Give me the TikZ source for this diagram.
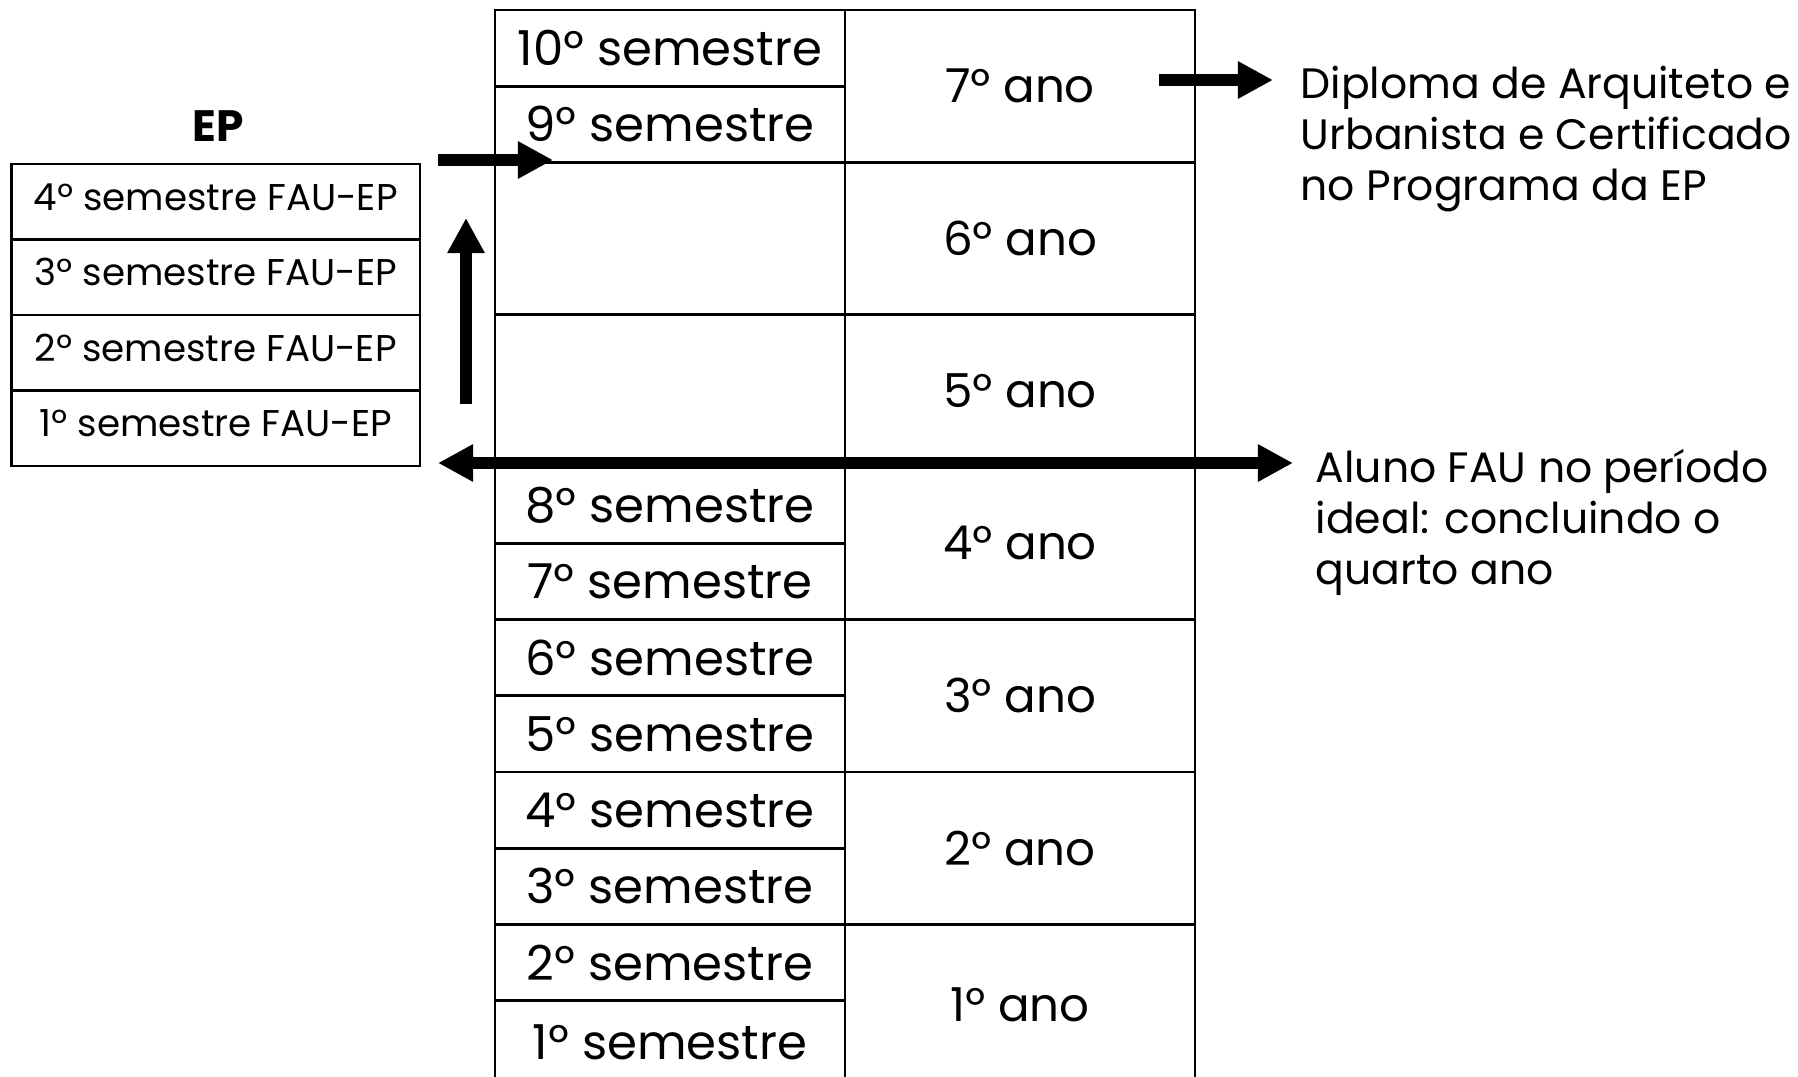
\documentclass[tikz,border=0pt]{standalone}
\usepackage{fontspec}
\setmainfont{Poppins}
\usetikzlibrary{positioning, arrows.meta}

\tikzset{
	celula/.style={draw, rectangle, line width=0.8pt, inner sep=0pt, outer sep=0pt, text centered, font=\fontsize{13.7}{16}\selectfont},
	semcel/.style={celula, minimum width=3.5cm, minimum height=0.762cm},
	anocel/.style={celula, minimum width=3.5cm, minimum height=1.524cm, font=\fontsize{13.3}{16}\selectfont},
	epcel/.style={celula, minimum width=4.085cm, minimum height=0.755cm, text depth=0.1cm, font=\fontsize{10.6}{13}\selectfont},
	nota/.style={anchor=west, align=left, inner sep=0pt, font=\fontsize{12.1}{14.5}\selectfont},
	seta/.style={line width=3.2pt, -{Triangle[length=10pt, width=10pt]}},
	setadupla/.style={line width=3.2pt, {Triangle[length=10pt, width=10pt]}-{Triangle[length=10pt, width=10pt]}}
}

\begin{document}
\begin{tikzpicture}
		\useasboundingbox (0,0) rectangle (17.98,-10.77);
		
		%Years column
		\node (ano7) at (10.20,-0.862) [anocel]{7º ano};
		\node (ano6) at (10.20,-2.386) [anocel]{6º ano};
		\node (ano5) at (10.20,-3.910) [anocel]{5º ano};
		\node (ano4) at (10.20,-5.434) [anocel]{4º ano};
		\node (ano3) at (10.20,-6.958) [anocel]{3º ano};
		\node (ano2) at (10.20,-8.482) [anocel]{2º ano};
		\node (ano1) at (10.20,-10.046) [anocel, minimum height=1.604cm]{1º ano};
		
		%Semesters column
		\node (sem10) at (6.70,-0.481) [semcel]{10º semestre};
		\node (sem9) at (6.70,-1.243) [semcel]{9º semestre};
		\node (vazio6) at (6.70,-2.386) [anocel]{};
		\node (vazio5) at (6.70,-3.910) [anocel]{};
		\node (sem8) at (6.70,-5.053) [semcel]{8º semestre};
		\node (sem7) at (6.70,-5.815) [semcel]{7º semestre};
		\node (sem6) at (6.70,-6.577) [semcel]{6º semestre};
		\node (sem5) at (6.70,-7.339) [semcel]{5º semestre};
		\node (sem4) at (6.70,-8.101) [semcel]{4º semestre};
		\node (sem3) at (6.70,-8.863) [semcel]{3º semestre};
		\node (sem2) at (6.70,-9.625) [semcel]{2º semestre};
		\node (sem1) at (6.70,-10.427) [semcel, minimum height=0.842cm]{1º semestre};
		
		%EP block
		\node (EP) at (2.18,-1.26) [font=\fontsize{12.5}{14}\selectfont\bfseries]{EP};
		\node (ep4) at (2.157,-2.0175) [epcel]{4º semestre FAU-EP};
		\node (ep3) at (2.157,-2.7725) [epcel]{3º semestre FAU-EP};
		\node (ep2) at (2.157,-3.5275) [epcel]{2º semestre FAU-EP};
		\node (ep1) at (2.157,-4.2825) [epcel]{1º semestre FAU-EP};
		
		%Notes on the right
		\node (Diploma) at (13.00,-1.39) [nota]{Diploma de Arquiteto e\\Urbanista e Certificado\\no Programa da EP};
		\node (Aluno) at (13.15,-5.22) [nota]{Aluno FAU no período\\ideal: concluindo o\\quarto ano};
		
		%Arrow ends
		\coordinate (entra1) at (4.38,-1.60);
		\coordinate (entra2) at (5.53,-1.60);
		\coordinate (sobe1) at (4.66,-4.04);
		\coordinate (sobe2) at (4.66,-2.18);
		\coordinate (ideal1) at (4.38,-4.63);
		\coordinate (ideal2) at (12.93,-4.63);
		\coordinate (sai1) at (11.59,-0.80);
		\coordinate (sai2) at (12.73,-0.80);
		
		%Arrows
		\draw[seta] (entra1) -- (entra2);
		\draw[seta] (sobe1) -- (sobe2);
		\draw[setadupla] (ideal1) -- (ideal2);
		\draw[seta] (sai1) -- (sai2);
		
\end{tikzpicture}
\end{document}
